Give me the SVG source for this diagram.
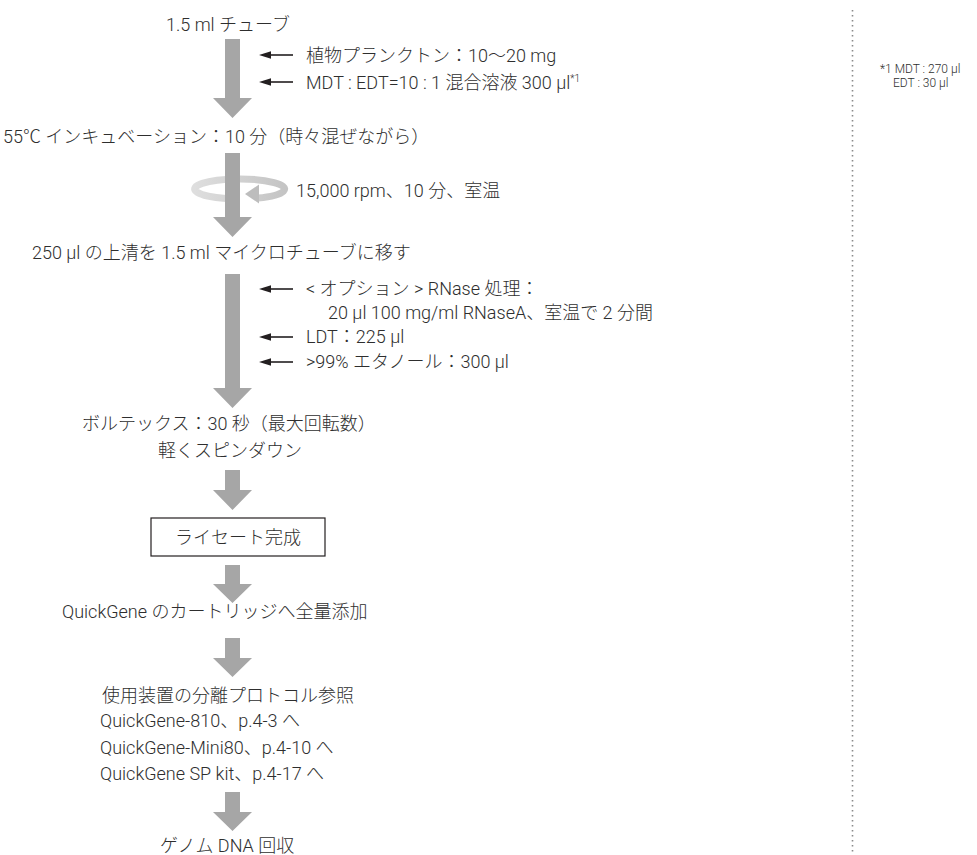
<svg xmlns="http://www.w3.org/2000/svg" width="977" height="855" viewBox="0 0 977 855">
  <style>
    .t { font-family: Roboto, "Noto Sans CJK JP", sans-serif; font-size: 18px; font-weight: 300; fill: #2e2e2e; }
    .fn { font-family: Roboto, "Noto Sans CJK JP", sans-serif; font-size: 12px; font-weight: 300; fill: #2e2e2e; }
    .sup { font-size: 10px; }
    .big { fill: #a6a6a6; }
    .ln { stroke: #231f20; stroke-width: 1.6; fill: none; }
    .hd { fill: #231f20; }
    .box { fill: #ffffff; stroke: #231f20; stroke-width: 1.2; }
  </style>
  <defs>
    <linearGradient id="ringg" x1="0" y1="0" x2="1" y2="0">
      <stop offset="0" stop-color="#dedede"/>
      <stop offset="1" stop-color="#c4c4c4"/>
    </linearGradient>
    <path id="sa" d="M0,0 L12,-3.8 L12,3.8 Z"/>
  </defs>
  <rect width="977" height="855" fill="#ffffff"/>

  <!-- divider -->
  <line x1="852.5" y1="10" x2="852.5" y2="852" stroke="#8a8a8a" stroke-width="1.6" stroke-dasharray="1.6 3.4"/>

  <!-- rotation ring (behind shaft) -->
  <g id="spin">
    <path d="M258,198.1 A45,10 0 1 0 226,198.5" fill="none" stroke="url(#ringg)" stroke-width="7"/>
    <path d="M245,194 L259,184.5 L259,203.5 Z" fill="#bdbdbd"/>
  </g>

  <!-- connectors -->
  <g id="connectors">
    <path class="big" d="M225,39 H240 V98 H252 L232.5,118 L213,98 H225 Z"/>
    <path class="big" d="M225,153 H240 V217 H252 L232.5,237 L213,217 H225 Z"/>
    <path class="big" d="M225,274 H240 V388 H252 L232.5,408 L213,388 H225 Z"/>
    <path class="big" d="M225,470 H240 V490 H252 L232.5,510 L213,490 H225 Z"/>
    <path class="big" d="M225,565 H240 V584 H252 L232.5,603 L213,584 H225 Z"/>
    <path class="big" d="M225,638 H240 V658 H252 L232.5,677 L213,658 H225 Z"/>
    <path class="big" d="M225,792 H240 V812 H252 L232.5,831 L213,812 H225 Z"/>
    <line class="ln" x1="293" y1="55" x2="268" y2="55"/>
    <use href="#sa" class="hd" x="259" y="55"/>
    <line class="ln" x1="293" y1="82" x2="268" y2="82"/>
    <use href="#sa" class="hd" x="259" y="82"/>
    <line class="ln" x1="293" y1="289" x2="268" y2="289"/>
    <use href="#sa" class="hd" x="259" y="289"/>
    <line class="ln" x1="293" y1="337" x2="268" y2="337"/>
    <use href="#sa" class="hd" x="259" y="337"/>
    <line class="ln" x1="293" y1="362" x2="268" y2="362"/>
    <use href="#sa" class="hd" x="259" y="362"/>
  </g>

  <g id="n1"><text class="t" x="166" y="31">1.5 ml チューブ</text></g>
  <g id="add1"><text class="t" x="306" y="62">植物プランクトン：10〜20 mg</text></g>
  <g id="add2"><text class="t" x="306" y="89">MDT : EDT=10 : 1 混合溶液 300 µl<tspan class="sup" dy="-7">*1</tspan></text></g>
  <g id="n2"><text class="t" x="3" y="143">55℃ インキュベーション：10 分（時々混ぜながら）</text></g>
  <g id="spinlabel"><text class="t" x="296" y="197">15,000 rpm、10 分、室温</text></g>
  <g id="n3"><text class="t" x="32" y="259">250 µl の上清を 1.5 ml マイクロチューブに移す</text></g>
  <g id="add3">
    <text class="t" x="306" y="295">&lt; オプション &gt; RNase 処理：</text>
    <text class="t" x="328" y="319">20 µl 100 mg/ml RNaseA、室温で 2 分間</text>
  </g>
  <g id="add4"><text class="t" x="306" y="343">LDT：225 µl</text></g>
  <g id="add5"><text class="t" x="306" y="368">&gt;99% エタノール：300 µl</text></g>
  <g id="n4">
    <text class="t" x="82" y="430">ボルテックス：30 秒（最大回転数）</text>
    <text class="t" x="158" y="457">軽くスピンダウン</text>
  </g>
  <g id="n5">
    <rect class="box" x="151" y="518" width="174" height="38"/>
    <text class="t" x="238" y="544" text-anchor="middle">ライセート完成</text>
  </g>
  <g id="n6"><text class="t" x="62" y="618">QuickGene のカートリッジへ全量添加</text></g>
  <g id="n7">
    <text class="t" x="102" y="702">使用装置の分離プロトコル参照</text>
    <text class="t" x="100" y="727">QuickGene-810、p.4-3 へ</text>
    <text class="t" x="100" y="754">QuickGene-Mini80、p.4-10 へ</text>
    <text class="t" x="100" y="780">QuickGene SP kit、p.4-17 へ</text>
  </g>
  <g id="n8"><text class="t" x="160" y="852">ゲノム DNA 回収</text></g>
  <g id="footnote">
    <text class="fn" x="880" y="73">*1  MDT : 270 µl</text>
    <text class="fn" x="893" y="87">EDT : 30 µl</text>
  </g>
</svg>
